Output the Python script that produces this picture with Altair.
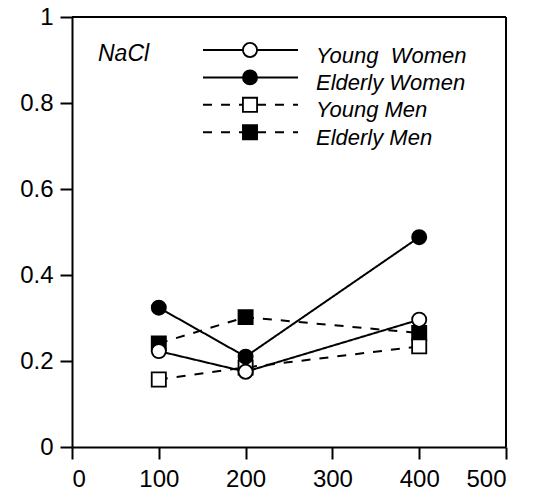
import altair as alt
import pandas as pd

# ---- data ----
doses = [100, 200, 400]
series_names = ["Young Women", "Elderly Women", "Young Men", "Elderly Men"]
legend_labels = ["Young \u00a0Women", "Elderly Women", "Young Men", "Elderly Men"]
young_women = [0.223, 0.175, 0.296]
elderly_women = [0.324, 0.210, 0.488]
young_men = [0.157, 0.185, 0.234]
elderly_men = [0.241, 0.302, 0.265]
x_ticks = [0, 100, 200, 300, 400, 500]
y_ticks = [0, 0.2, 0.4, 0.6, 0.8, 1]
panel_label = ["NaCl"]

values = {
    "Young Women": young_women,
    "Elderly Women": elderly_women,
    "Young Men": young_men,
    "Elderly Men": elderly_men,
}
draw_order = ["Elderly Men", "Young Men", "Young Women", "Elderly Women"]

rows = []
for k, s in enumerate(draw_order):
    for d, v in zip(doses, values[s]):
        rows.append({"series": s, "dose": d, "value": v, "z": k})
df = pd.DataFrame(rows)

W, H = 434, 430

# legend table (pixel positions inside the plot area)
leg = pd.DataFrame({"series": series_names, "label": legend_labels})
leg["ly"] = [33 + i * 27.4 for i in range(len(leg))]
leg["ty"] = leg["ly"] + 5.5
leg["x1"] = 131
leg["x2"] = 226
leg["xm"] = 178
leg["tx"] = 244

lab = pd.DataFrame({"t": panel_label, "x": [26], "y": [37]})

dash_scale = alt.Scale(domain=series_names, range=[[1, 0], [1, 0], [9, 9], [9, 9]])
shape_scale = alt.Scale(domain=series_names, range=["circle", "circle", "square", "square"])
fill_scale = alt.Scale(domain=series_names, range=["white", "black", "white", "black"])

xs = alt.Scale(domain=[0, 500], nice=False)
ys = alt.Scale(domain=[0, 1], nice=False)

axis_common = dict(
    grid=False, tickSize=12, tickWidth=2, domainWidth=2, domainColor="black",
    tickColor="black", labelColor="black", labelFontSize=24, labelFont="Liberation Sans",
    title=None,
)

lines = alt.Chart(df).mark_line(color="black", strokeWidth=2).encode(
    x=alt.X("dose:Q", scale=xs, axis=alt.Axis(values=x_ticks, labelPadding=8, **axis_common)),
    y=alt.Y("value:Q", scale=ys, axis=alt.Axis(values=y_ticks, format="~g", labelPadding=7, **axis_common)),
    detail="series:N",
    strokeDash=alt.StrokeDash("series:N", scale=dash_scale, legend=None),
)

points = alt.Chart(df).mark_point(size=200, strokeWidth=1.8, stroke="black", opacity=1, filled=False).encode(
    x=alt.X("dose:Q", scale=xs),
    y=alt.Y("value:Q", scale=ys),
    shape=alt.Shape("series:N", scale=shape_scale, legend=None),
    fill=alt.Fill("series:N", scale=fill_scale, legend=None),
    order=alt.Order("z:Q"),
)

data_layer = alt.layer(lines, points)

# top and right frame lines
frame_top = alt.Chart(pd.DataFrame({"k": [0]})).mark_rule(color="black", strokeWidth=2).encode(
    x=alt.value(0), x2=alt.value(W), y=alt.value(0)
)
frame_right = alt.Chart(pd.DataFrame({"k": [0]})).mark_rule(color="black", strokeWidth=2).encode(
    x=alt.value(W), y=alt.value(0), y2=alt.value(H)
)

leg_lines = alt.Chart(leg).mark_rule(color="black", strokeWidth=2).encode(
    x=alt.X("x1:Q", scale=None, axis=None),
    x2="x2:Q",
    y=alt.Y("ly:Q", scale=None, axis=None),
    strokeDash=alt.StrokeDash("series:N", scale=dash_scale, legend=None),
)
leg_pts = alt.Chart(leg).mark_point(size=200, strokeWidth=1.8, stroke="black", opacity=1).encode(
    x=alt.X("xm:Q", scale=None, axis=None),
    y=alt.Y("ly:Q", scale=None, axis=None),
    shape=alt.Shape("series:N", scale=shape_scale, legend=None),
    fill=alt.Fill("series:N", scale=fill_scale, legend=None),
)
leg_text = alt.Chart(leg).mark_text(
    align="left", baseline="middle", fontSize=22, fontStyle="italic",
    font="Liberation Sans", color="black",
).encode(
    x=alt.X("tx:Q", scale=None, axis=None),
    y=alt.Y("ty:Q", scale=None, axis=None),
    text="label:N",
)
nacl = alt.Chart(lab).mark_text(
    align="left", baseline="middle", fontSize=23, fontStyle="italic",
    font="Liberation Sans", color="black",
).encode(
    x=alt.X("x:Q", scale=None, axis=None),
    y=alt.Y("y:Q", scale=None, axis=None),
    text="t:N",
)

chart = alt.layer(data_layer, frame_top, frame_right, leg_lines, leg_pts, leg_text, nacl).resolve_scale(
    x="independent", y="independent"
).properties(
    width=W, height=H,
    autosize=alt.AutoSizeParams(type="none"),
    padding={"left": 72, "top": 17, "right": 27, "bottom": 48},
    background="white",
).configure_view(stroke=None)

chart.save("out.html", embed_options={"renderer": "svg", "actions": False})
